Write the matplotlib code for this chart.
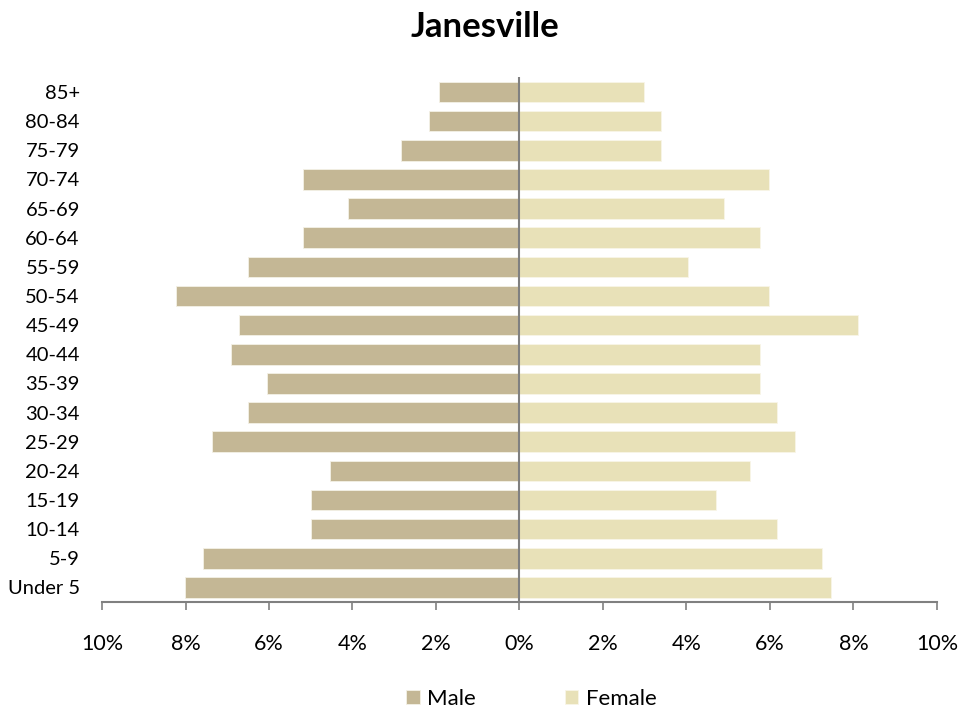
import matplotlib.pyplot as plt
import numpy as np

plt.rcParams["font.family"] = ["Lato", "DejaVu Sans"]

age_groups = ["Under 5", "5-9", "10-14", "15-19", "20-24", "25-29", "30-34",
              "35-39", "40-44", "45-49", "50-54", "55-59", "60-64", "65-69",
              "70-74", "75-79", "80-84", "85+"]
male = [8.02, 7.57, 4.99, 4.99, 4.55, 7.36, 6.51, 6.05, 6.91, 6.71, 8.23,
        6.51, 5.19, 4.10, 5.19, 2.83, 2.17, 1.93]
female = [7.46, 7.24, 6.18, 4.71, 5.53, 6.59, 6.18, 5.77, 5.77, 8.10, 5.97,
          4.04, 5.77, 4.90, 5.97, 3.40, 3.40, 2.98]
x_ticks = [-10, -8, -6, -4, -2, 0, 2, 4, 6, 8, 10]

male_color = "#C4B795"
female_color = "#E8E1B8"

fig = plt.figure(figsize=(9.79, 7.13), dpi=100)
ax = fig.add_axes([0.1042, 0.1557, 0.957 - 0.1042, 0.8914 - 0.1557])

y = np.arange(len(age_groups))
ax.barh(y, -np.array(male), height=0.71, color=male_color,
        edgecolor="#F4F1E6", linewidth=0.6, label="Male")
ax.barh(y, female, height=0.71, color=female_color,
        edgecolor="#F8F5E8", linewidth=0.6, label="Female")

ax.axvline(0, color="#808080", linewidth=1.5, zorder=3)

ax.set_xlim(-10, 10)
ax.set_ylim(-0.5, len(age_groups) - 0.5)
ax.set_yticks(y)
ax.set_yticklabels(age_groups, fontsize=14.5)
ax.set_xticks(x_ticks)
ax.set_xticklabels([f"{abs(t)}%" for t in x_ticks], fontsize=15.5)

for side in ["top", "right", "left"]:
    ax.spines[side].set_visible(False)
ax.spines["bottom"].set_color("#808080")
ax.spines["bottom"].set_linewidth(1.5)
ax.tick_params(axis="y", length=0, pad=16)
ax.tick_params(axis="x", direction="out", length=6, width=1.2,
               color="#808080", pad=17)

fig.text(0.495, 1 - 37 / 713, "Janesville", fontsize=25, fontweight="bold",
         ha="center", va="baseline")

fig.legend(loc="center", ncol=2, frameon=False, fontsize=16,
           bbox_to_anchor=(0.543, 0.02), handlelength=0.6, handleheight=0.6,
           handletextpad=0.35, columnspacing=4.0, borderpad=0)

fig.savefig("out.png", dpi=100)
